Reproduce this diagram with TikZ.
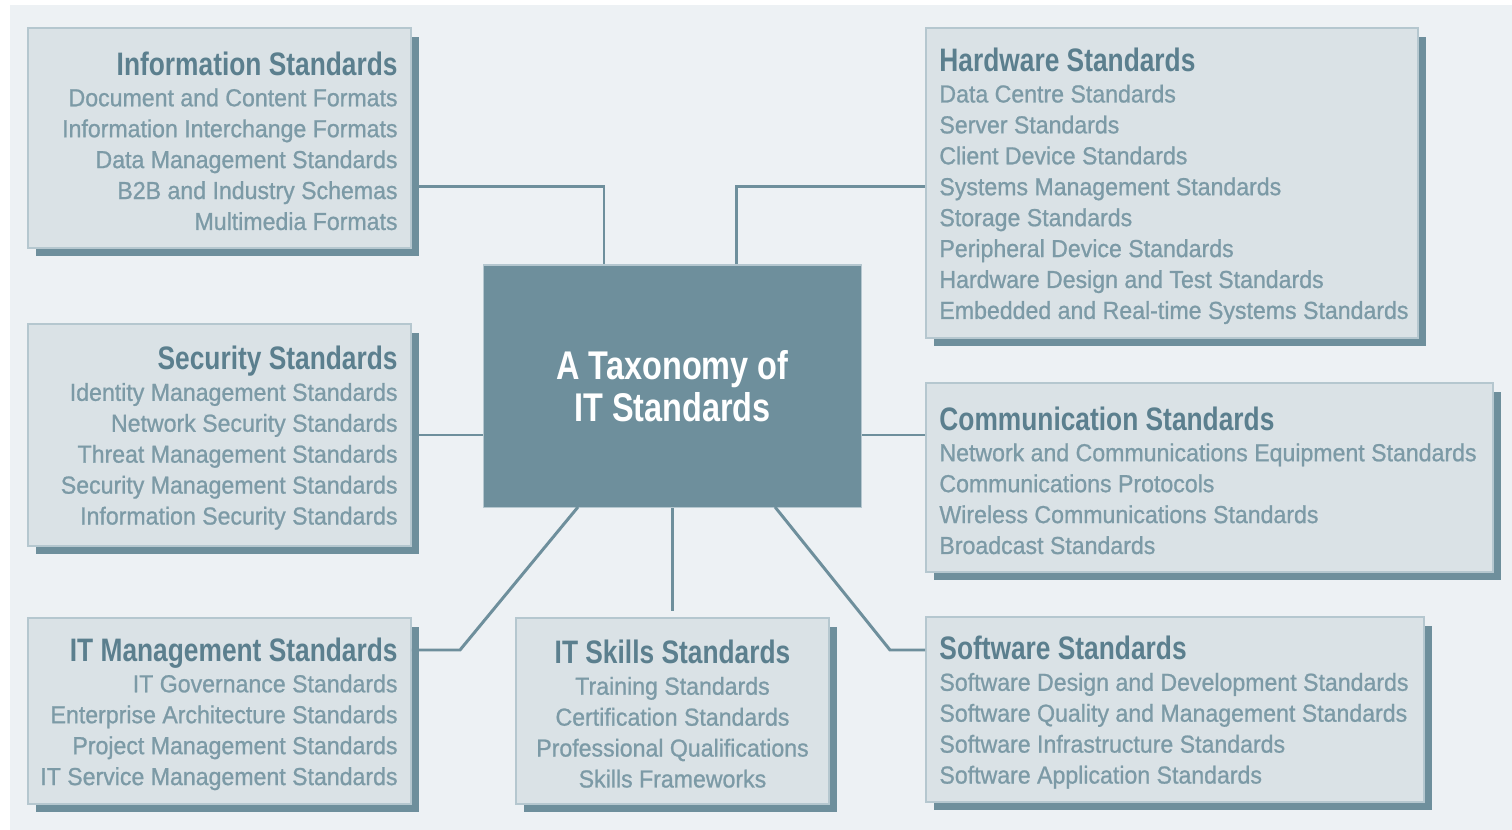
\documentclass[tikz,border=0pt]{standalone}
\usepackage{fontspec}
\setmainfont{Liberation Sans}
\newfontfamily\itemfam{Liberation Sans}[FakeStretch=0.94, FakeBold=0.9]
\newfontfamily\headfam{Liberation Sans}[FakeStretch=0.81]
\usetikzlibrary{positioning,shadows}

\definecolor{tback}{HTML}{EDF1F4}
\definecolor{tfill}{HTML}{DAE2E6}
\definecolor{tborder}{HTML}{B5C7CF}
\definecolor{tshade}{HTML}{6E8F9C}
\definecolor{thead}{HTML}{5B7F8E}
\definecolor{titem}{HTML}{7C9AA6}

\newcommand{\stdhead}[1]{{\headfam\bfseries\fontsize{18.5}{17.6}\selectfont\color{thead}#1}\\[0pt]}

\tikzset{
  stdbox/.style={draw=tborder, line width=1.1pt, fill=tfill,
    drop shadow={shadow xshift=0.16cm, shadow yshift=-0.17cm, opacity=1, fill=tshade}},
  stdtext/.style={inner sep=0pt, text=titem, yshift=-0.06cm,
    font=\itemfam\fontsize{14}{17.6}\selectfont},
  hubbox/.style={fill=tshade, draw=tborder, line width=0.6pt, text=white, align=center,
    font=\headfam\bfseries\fontsize{22.8}{24}\selectfont},
  link/.style={draw=tshade, line width=1.7pt}
}

\begin{document}
\begin{tikzpicture}[x=0.02cm, y=-0.02cm]
\useasboundingbox (0,0) rectangle (1512,830);
\fill[tback] (10,5) rectangle (1512,830);

% centre
\node[hubbox, minimum width=7.58cm, minimum height=4.86cm] (hub) at (672.5,386.5)
  {A Taxonomy of\\IT Standards};

% boxes
\node[stdbox, minimum width=7.66cm, minimum height=4.4cm] (info) at (219.5,138) {};
\node[stdbox, minimum width=7.66cm, minimum height=4.44cm] (sec) at (219.5,435) {};
\node[stdbox, minimum width=7.66cm, minimum height=3.72cm] (mgmt) at (219.5,711) {};
\node[stdbox, minimum width=6.26cm, minimum height=3.72cm] (skills) at (672.5,711) {};
\node[stdbox, minimum width=9.84cm, minimum height=6.2cm] (hw) at (1172,183) {};
\node[stdbox, minimum width=11.34cm, minimum height=3.78cm] (comm) at (1209.5,477.5) {};
\node[stdbox, minimum width=9.96cm, minimum height=3.7cm] (sw) at (1175,709.5) {};

% texts on the left
\node[stdtext, align=right, anchor=east] (infotxt) at ([xshift=-0.28cm]info.east)
  {\stdhead{Information Standards}
   Document and Content Formats\\
   Information Interchange Formats\\
   Data Management Standards\\
   B2B and Industry Schemas\\
   Multimedia Formats};
\node[stdtext, align=right, anchor=east] (sectxt) at ([xshift=-0.28cm]sec.east)
  {\stdhead{Security Standards}
   Identity Management Standards\\
   Network Security Standards\\
   Threat Management Standards\\
   Security Management Standards\\
   Information Security Standards};
\node[stdtext, align=right, anchor=east] (mgmttxt) at ([xshift=-0.28cm]mgmt.east)
  {\stdhead{IT Management Standards}
   IT Governance Standards\\
   Enterprise Architecture Standards\\
   Project Management Standards\\
   IT Service Management Standards};

% text at the bottom
\node[stdtext, align=center] (skillstxt) at (skills)
  {\stdhead{IT Skills Standards}
   Training Standards\\
   Certification Standards\\
   Professional Qualifications\\
   Skills Frameworks};

% texts on the right
\node[stdtext, align=left, anchor=west] (hwtxt) at ([xshift=0.28cm]hw.west)
  {\stdhead{Hardware Standards}
   Data Centre Standards\\
   Server Standards\\
   Client Device Standards\\
   Systems Management Standards\\
   Storage Standards\\
   Peripheral Device Standards\\
   Hardware Design and Test Standards\\
   Embedded and Real-time Systems Standards};
\node[stdtext, align=left, anchor=west] (commtxt) at ([xshift=0.28cm]comm.west)
  {\stdhead{Communication Standards}
   Network and Communications Equipment Standards\\
   Communications Protocols\\
   Wireless Communications Standards\\
   Broadcast Standards};
\node[stdtext, align=left, anchor=west] (swtxt) at ([xshift=0.28cm]sw.west)
  {\stdhead{Software Standards}
   Software Design and Development Standards\\
   Software Quality and Management Standards\\
   Software Infrastructure Standards\\
   Software Application Standards};

% joints
\coordinate (infoj) at (604,187);
\coordinate (hwj) at (736,187);
\coordinate (mgj) at (460,650);
\coordinate (mgh) at (578,507);
\coordinate (swj) at (890,650);
\coordinate (swh) at (775,507);

% connectors
\draw[link] (infoj -| info.east) -- (infoj) -- (infoj |- hub.north);
\draw[link] (hwj -| hw.west) -- (hwj) -- (hwj |- hub.north);
\draw[link] (sec.east) -- (sec.east -| hub.west);
\draw[link] (hub.east |- sec.east) -- (comm.west |- sec.east);
\draw[link] (mgj -| mgmt.east) -- (mgj) -- (mgh);
\draw[link, shorten >=0.12cm] (hub.south) -- (skills.north);
\draw[link] (swj -| sw.west) -- (swj) -- (swh);
\end{tikzpicture}
\end{document}
